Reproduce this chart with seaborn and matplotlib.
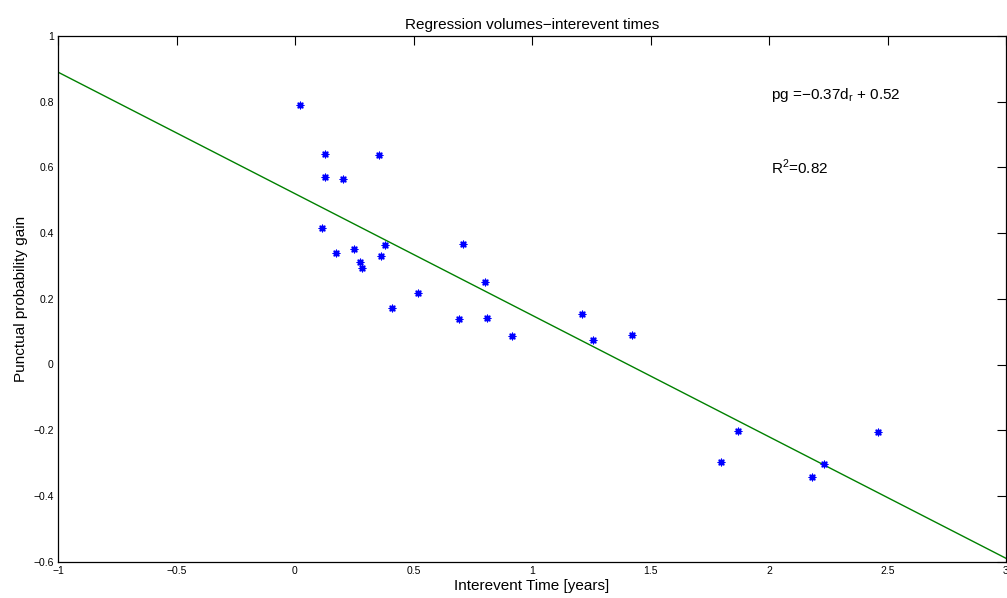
import numpy as np
import pandas as pd
import matplotlib
matplotlib.use("Agg")
import matplotlib.pyplot as plt
import seaborn as sns

# ---- data ----
interevent_time = [0.020, 0.125, 0.355, 0.128, 0.204, 0.114, 0.172, 0.250, 0.276,
                   0.284, 0.379, 0.364, 0.707, 0.801, 0.520, 0.408, 0.691, 0.809,
                   0.916, 1.211, 1.256, 1.420, 1.798, 1.871, 2.182, 2.232, 2.461]
prob_gain = [0.789, 0.640, 0.638, 0.570, 0.566, 0.416, 0.338, 0.352, 0.311,
             0.295, 0.363, 0.329, 0.367, 0.250, 0.219, 0.173, 0.138, 0.142,
             0.086, 0.154, 0.075, 0.091, -0.298, -0.202, -0.342, -0.304, -0.205]
fit_slope = -0.37
fit_intercept = 0.52
fit_x = [-1.0, 3.0]
x_ticks = [-1, -0.5, 0, 0.5, 1, 1.5, 2, 2.5, 3]
x_tick_labels = ["\u22121", "\u22120.5", "0", "0.5", "1", "1.5", "2", "2.5", "3"]
y_ticks = [-0.6, -0.4, -0.2, 0, 0.2, 0.4, 0.6, 0.8, 1]
y_tick_labels = ["\u22120.6", "\u22120.4", "\u22120.2", "0", "0.2", "0.4", "0.6", "0.8", "1"]

sns.set_style("white")
plt.rcParams["font.family"] = ["Liberation Sans", "DejaVu Sans"]
plt.rcParams["text.color"] = "black"
plt.rcParams["axes.labelcolor"] = "black"

df = pd.DataFrame({"t": interevent_time, "pg": prob_gain})
fit_df = pd.DataFrame({"t": fit_x,
                       "pg": [fit_slope * v + fit_intercept for v in fit_x]})

fig = plt.figure(figsize=(10.07, 5.98), dpi=100)
ax = fig.add_axes([58 / 1007, 1 - 561.6 / 598, 948 / 1007, (561.6 - 36) / 598])

sns.lineplot(data=fit_df, x="t", y="pg", ax=ax, color="#008000", linewidth=1.0)
sns.scatterplot(data=df, x="t", y="pg", ax=ax, marker=(8, 2, 0), color="#0000ff",
                s=22, linewidth=1.0, zorder=3)

ax.set_xlim(-1, 3)
ax.set_ylim(-0.6, 1)
ax.set_xticks(x_ticks)
ax.set_xticklabels(x_tick_labels)
ax.set_yticks(y_ticks)
ax.set_yticklabels(y_tick_labels)
ax.tick_params(direction="in", length=6.5, width=0.8, labelsize=7.5,
               top=True, right=True, colors="black", labelcolor="black", pad=3)
for sp in ax.spines.values():
    sp.set_visible(True)
    sp.set_color("black")
    sp.set_linewidth(0.9)

ax.set_xlabel("Interevent Time [years]", fontsize=11, labelpad=2, color="black")
ax.set_ylabel("Punctual probability gain", fontsize=11, labelpad=4, color="black")
ax.set_title("Regression volumes\u2212interevent times", fontsize=11, pad=5,
             color="black")

ax.text(2.01, 0.82, "pg =\u22120.37d$_\\mathregular{r}$ + 0.52", fontsize=11,
        va="center", ha="left", color="black")
ax.text(2.01, 0.60, "R$^\\mathregular{2}$=0.82", fontsize=11, va="center",
        ha="left", color="black")

fig.savefig("out.png", dpi=100, facecolor="white")
